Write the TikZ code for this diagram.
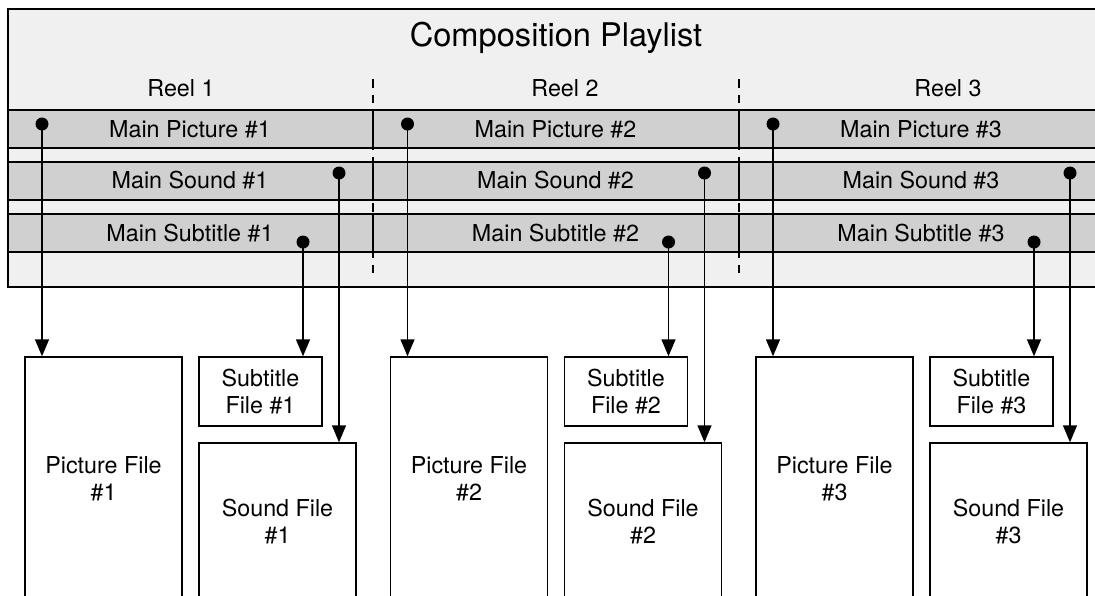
\documentclass[tikz,border=0pt]{standalone}
\usepackage{fontspec}
\setmainfont{TeX Gyre Heros}
\usepackage{xcolor}
\usetikzlibrary{arrows.meta}
\definecolor{cplfill}{HTML}{F0F0F0}
\definecolor{trackfill}{HTML}{D0D0D0}

\begin{document}
\begin{tikzpicture}[x=1pt, y=-1pt, line width=1.4pt,
    lbl/.style={font=\fontsize{23.3}{27}\selectfont, anchor=base},
    filebox/.style={draw, align=center, inner sep=0pt, font=\fontsize{23.3}{27}\selectfont},
    dot/.style={circle, fill, inner sep=0pt, minimum size=13pt},
    arr/.style={-{Triangle[width=14pt,length=17pt]}}]
    \useasboundingbox (0,0) rectangle (1095,595);
    \clip (0,0) rectangle (1095,595);

    % Composition Playlist
    \draw[fill=cplfill] (8,9) rectangle (1104,287);
    \draw[fill=trackfill] (8,110) rectangle (1104,148);
    \draw[fill=trackfill] (8,162) rectangle (1104,200);
    \draw[fill=trackfill] (8,214) rectangle (1104,252);
    \node[font=\fontsize{32.6}{38}\selectfont, anchor=base] (title) at (556,46) {Composition Playlist};

    % reel boundaries
    \foreach \x in {373,739} {
        \draw[dash pattern=on 8.5pt off 7pt] (\x,79) -- (\x,273);
        \draw (\x,110) -- (\x,148);
        \draw (\x,162) -- (\x,200);
        \draw (\x,214) -- (\x,252);
    }
    \foreach \i/\x in {1/181,2/565,3/948}
        \node[lbl] (reel\i) at (\x,96) {Reel \i};

    % tracks and files of each reel
    \foreach \i in {1,2,3} {
    \begin{scope}[xshift={(\i-1)*365.5}]
        \node[lbl] (mpic\i) at (190,137) {Main Picture \#\i};
        \node[lbl] (msnd\i) at (190,188) {Main Sound \#\i};
        \node[lbl] (msub\i) at (190,241) {Main Subtitle \#\i};

        \node[dot] (pdot\i) at (42,124) {};
        \node[dot] (sdot\i) at (339,173) {};
        \node[dot] (tdot\i) at (303,242) {};

        \node[filebox, minimum width=157pt, minimum height=243pt] (pfile\i) at (103.5,478.5) {Picture File\\\#\i};
        \node[filebox, minimum width=123pt, minimum height=69pt] (tfile\i) at (260.5,391.5) {Subtitle\\File \#\i};
        \node[filebox, minimum width=157pt, minimum height=157pt] (sfile\i) at (277.5,521.5) {Sound File\\\#\i};

        \draw[arr] (pdot\i.center) -- (pdot\i |- pfile\i.north);
        \draw[arr] (tdot\i.center) -- (tdot\i |- tfile\i.north);
        \draw[arr] (sdot\i.center) -- (sdot\i |- sfile\i.north);
    \end{scope}
    }
\end{tikzpicture}
\end{document}
